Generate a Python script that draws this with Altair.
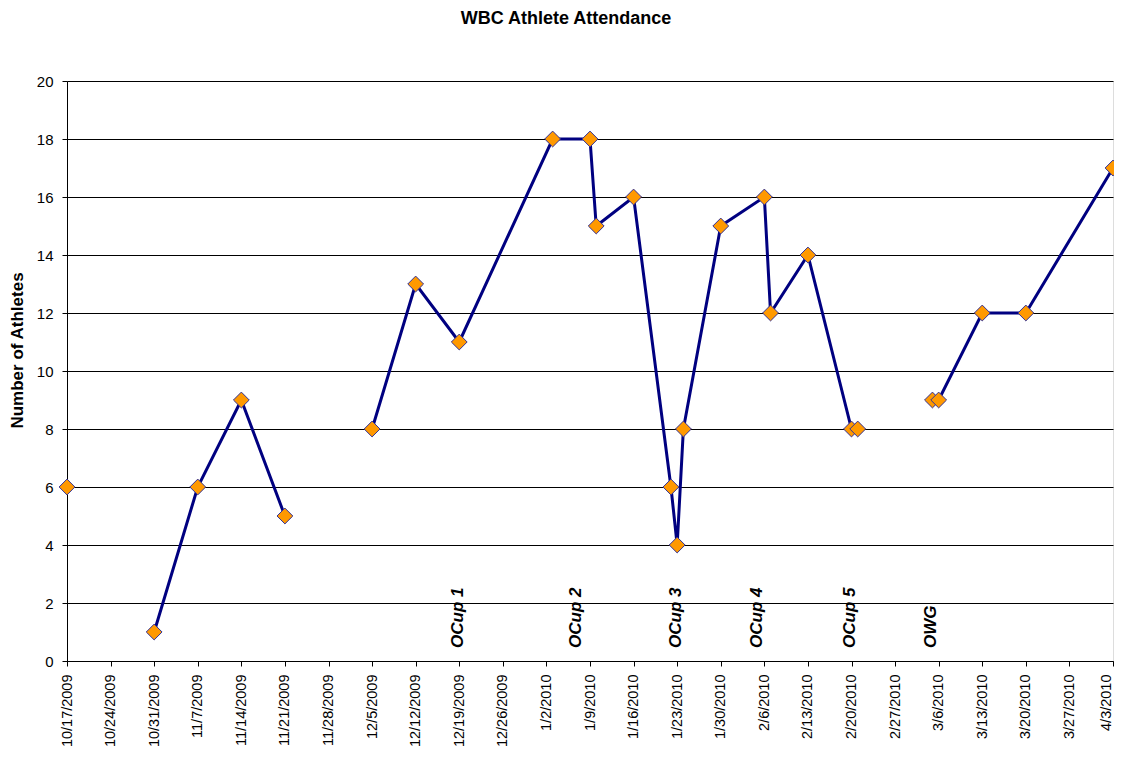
import altair as alt
import pandas as pd

# ---- data ----
dates = ["2009-10-17", "2009-10-24", "2009-10-31", "2009-11-07", "2009-11-14", "2009-11-21",
         "2009-11-28", "2009-12-05", "2009-12-12", "2009-12-19", "2010-01-03", "2010-01-09",
         "2010-01-10", "2010-01-16", "2010-01-22", "2010-01-23", "2010-01-24", "2010-01-30",
         "2010-02-06", "2010-02-07", "2010-02-13", "2010-02-20", "2010-02-21", "2010-02-27",
         "2010-03-05", "2010-03-06", "2010-03-13", "2010-03-20", "2010-04-03"]
athletes = [6, None, 1, 6, 9, 5, None, 8, 13, 11, 18, 18, 15, 16, 6, 4, 8, 15, 16, 12, 14, 8, 8,
            None, 9, 9, 12, 12, 17]

event_labels = ["OCup 1", "OCup 2", "OCup 3", "OCup 4", "OCup 5", "OWG"]
event_dates = ["2009-12-18", "2010-01-06", "2010-01-22", "2010-02-04", "2010-02-19", "2010-03-04"]

tick_labels = ["10/17/2009", "10/24/2009", "10/31/2009", "11/7/2009", "11/14/2009", "11/21/2009",
               "11/28/2009", "12/5/2009", "12/12/2009", "12/19/2009", "12/26/2009", "1/2/2010",
               "1/9/2010", "1/16/2010", "1/23/2010", "1/30/2010", "2/6/2010", "2/13/2010",
               "2/20/2010", "2/27/2010", "3/6/2010", "3/13/2010", "3/20/2010", "3/27/2010",
               "4/3/2010"]
y_ticks = [0, 2, 4, 6, 8, 10, 12, 14, 16, 18, 20]

tick_ms = [int(pd.Timestamp(pd.to_datetime(t, format="%m/%d/%Y")).value // 10**6) for t in tick_labels]

df = pd.DataFrame({"date": dates, "athletes": athletes})
ev = pd.DataFrame({"date": event_dates, "label": event_labels})

FONT = "Liberation Sans"

x_scale = alt.Scale(type="utc", domain=[tick_ms[0], tick_ms[-1]], nice=False)
y_scale = alt.Scale(domain=[0, 20], nice=False, zero=True)

x_axis = alt.Axis(values=tick_ms, format="%-m/%-d/%Y", labelAngle=270, labelAlign="right",
                  labelBaseline="middle", labelPadding=8, labelFontSize=14.5, labelColor="#000",
                  labelFlush=False, labelOverlap=False, grid=False, tickSize=5, tickColor="#000",
                  labelOffset={"condition": {"test": f"time(datum.value) == {tick_ms[-1]}",
                                             "value": -7}, "value": 0},
                  domainColor="#000", title="", labelFont=FONT)
y_axis = alt.Axis(values=y_ticks, labelFontSize=15, labelColor="#000", labelPadding=9,
                  tickSize=5, tickColor="#000", domainColor="#000", grid=True,
                  gridColor="#000", gridOpacity=1, title="Number of Athletes",
                  titleFontSize=17, titleFont=FONT, titleFontWeight="bold", titleColor="#000",
                  titleX=-50, titleY=269, titleAngle=270, titleAlign="center",
                  titleBaseline="middle", labelFont=FONT)

base = alt.Chart(df)

line = base.mark_line(color="#000080", strokeWidth=3,
                      invalid="break-paths-filter-domains").encode(
    x=alt.X("date:T", scale=x_scale, axis=x_axis),
    y=alt.Y("athletes:Q", scale=y_scale, axis=y_axis),
)

points = base.mark_point(shape="diamond", filled=True, fill="#FF9900", stroke="#333399",
                         strokeWidth=1, size=250, opacity=1).encode(
    x=alt.X("date:T", scale=x_scale),
    y=alt.Y("athletes:Q", scale=y_scale),
)

events = alt.Chart(ev).mark_text(angle=270, align="left", baseline="middle", font=FONT,
                                 fontSize=17, fontWeight="bold", fontStyle="italic",
                                 color="#000", dy=5).encode(
    x=alt.X("date:T", scale=x_scale),
    y=alt.datum(0.45),
    text="label:N",
)

chart = alt.layer(line, points, events).properties(
    width=1046,
    height=580,
    autosize="none",
    padding={"left": 59, "top": 73, "right": 1, "bottom": 86},
    title=alt.TitleParams("WBC Athlete Attendance", font=FONT, fontSize=18, fontWeight="bold",
                          color="#000", anchor="middle", frame="group", offset=28, dx=-24,
                          baseline="bottom"),
).configure_view(stroke="#000", strokeWidth=1).configure(background="white")

chart.save("out.html", embed_options={"renderer": "svg", "actions": False})
